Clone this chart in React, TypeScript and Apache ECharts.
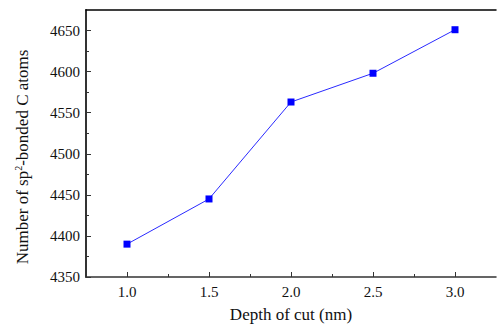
import React, { useEffect, useRef } from "react";
import * as echarts from "echarts";

const depths = [1.0, 1.5, 2.0, 2.5, 3.0];
const atoms = [4390, 4445, 4563, 4598, 4651];
const xMajor = [1.0, 1.5, 2.0, 2.5, 3.0];
const xMinor = [1.25, 1.75, 2.25, 2.75];
const yMajor = [4350, 4400, 4450, 4500, 4550, 4600, 4650];
const yMinor = [4375, 4425, 4475, 4525, 4575, 4625];
const xTitle = "Depth of cut (nm)";

const FONT = "Liberation Serif";
const AX = "#333";

export default function App() {
  const ref = useRef<HTMLDivElement>(null);
  useEffect(() => {
    const chart = echarts.init(ref.current!, null, { renderer: "svg" });
    const grid = { left: 86, top: 10, right: 1, bottom: 48, containLabel: false, outerBoundsMode: "none" };
    const xBase = { type: "value", min: 0.75, max: 3.25, gridIndex: 0 };
    const yBase = { type: "value", min: 4350, max: 4675, gridIndex: 0 };
    chart.setOption({
      animation: false,
      grid,
      xAxis: [
        {
          ...xBase,
          position: "bottom",
          name: xTitle,
          nameLocation: "middle",
          nameGap: 29,
          nameTextStyle: { fontFamily: FONT, fontSize: 17, color: "#111" },
          axisLine: { show: true, lineStyle: { color: AX, width: 1.5 } },
          axisTick: { show: true, inside: true, length: 5, customValues: xMajor, lineStyle: { color: AX } },
          axisLabel: {
            customValues: xMajor,
            formatter: (v: number) => v.toFixed(1),
            fontFamily: FONT,
            fontSize: 15,
            color: "#111",
            margin: 7,
          },
          splitLine: { show: false },
        },
        {
          ...xBase,
          position: "bottom",
          axisLine: { show: false },
          axisTick: { show: true, inside: true, length: 3, customValues: xMinor, lineStyle: { color: AX } },
          axisLabel: { show: false },
          splitLine: { show: false },
        },
        {
          ...xBase,
          position: "top",
          axisLine: { show: true, lineStyle: { color: "#000", width: 1.5 } },
          axisTick: { show: false },
          axisLabel: { show: false },
          splitLine: { show: false },
        },
      ],
      yAxis: [
        {
          ...yBase,
          position: "left",
          axisLine: { show: true, lineStyle: { color: AX, width: 2 } },
          axisTick: { show: true, inside: true, length: 5, customValues: yMajor, lineStyle: { color: AX } },
          axisLabel: {
            customValues: yMajor,
            formatter: (v: number) => String(v),
            fontFamily: FONT,
            fontSize: 15,
            color: "#111",
            margin: 6,
          },
          splitLine: { show: false },
        },
        {
          ...yBase,
          position: "left",
          axisLine: { show: false },
          axisTick: { show: true, inside: true, length: 3, customValues: yMinor, lineStyle: { color: AX } },
          axisLabel: { show: false },
          splitLine: { show: false },
        },
      ],
      graphic: [
        {
          type: "text",
          x: 22,
          y: 157,
          rotation: Math.PI / 2,
          style: {
            text: "{a|Number of sp}{s|2}{a|-bonded C atoms}",
            align: "center",
            verticalAlign: "middle",
            rich: {
              a: { fontFamily: FONT, fontSize: 17, fill: "#111" },
              s: { fontFamily: FONT, fontSize: 10, fill: "#111", verticalAlign: "top", padding: [0, 0, 8, 0] },
            },
          },
        },
      ],
      series: [
        {
          type: "line",
          xAxisIndex: 0,
          yAxisIndex: 0,
          data: depths.map((d, i) => [d, atoms[i]]),
          symbol: "rect",
          symbolSize: 7,
          itemStyle: { color: "#0000ff" },
          lineStyle: { color: "#2a2aff", width: 1 },
        },
      ],
    });
    return () => chart.dispose();
  }, []);
  return (
    <div
      ref={ref}
      style={{ position: "fixed", left: 0, top: 0, width: 497, height: 325, background: "#fff" }}
    />
  );
}
